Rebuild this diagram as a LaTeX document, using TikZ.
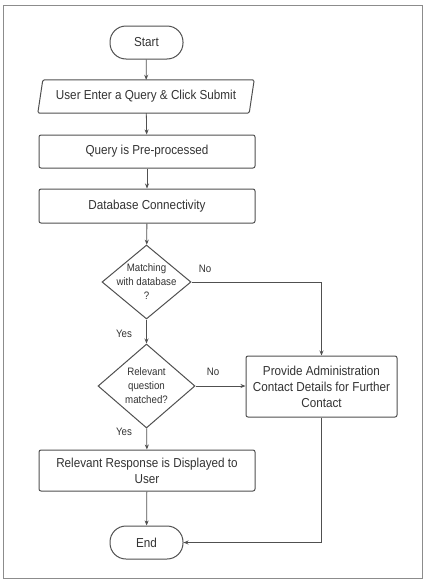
\documentclass[tikz,border=0pt]{standalone}
\usepackage{fontspec}
\setmainfont[FakeStretch=0.9]{Liberation Sans}
\usetikzlibrary{shapes.geometric,arrows.meta}
\definecolor{ln}{HTML}{505050}
\definecolor{tx}{HTML}{333333}
\definecolor{fr}{HTML}{8C8C8C}
\tikzset{
  base/.style={draw=ln, line width=1pt, fill=white, text=tx, align=center,
    font=\fontsize{13}{16}\selectfont, inner sep=0pt},
  term/.style={base, rounded corners=16pt, minimum width=73pt, minimum height=33pt},
  proc/.style={base, rounded corners=2pt, minimum width=216pt},
  dec/.style={base, diamond, inner sep=-30pt, font=\fontsize{10.8}{14}\selectfont},
  io/.style={text=tx, align=center, font=\fontsize{13}{16}\selectfont,
    minimum width=211pt, minimum height=33pt, inner sep=0pt},
  conn/.style={draw=ln, line width=0.8pt, -{Stealth[length=5pt,width=4pt]}},
  lbl/.style={text=tx, font=\fontsize{10.8}{13}\selectfont, inner sep=0pt}
}
\begin{document}
\begin{tikzpicture}[x=1pt,y=1pt]
\useasboundingbox (0,0) rectangle (425,-581);
\draw[fr, line width=1pt] (3,-5) rectangle (422,-578);

\node[term] (start) at (146.5,-42.5) {Start};
\node[io] (inp) at (146,-96.5) {User Enter a Query \& Click Submit};
\draw[ln, line width=1pt, rounded corners=1.5pt] ([xshift=2.5pt]inp.north west) -- ([xshift=2.5pt]inp.north east) -- ([xshift=-2.5pt]inp.south east) -- ([xshift=-2.5pt]inp.south west) -- cycle;
\node[proc, minimum height=33pt] (pre) at (147,-151.5) {Query is Pre-processed};
\node[proc, minimum height=34pt] (db) at (147,-206) {Database Connectivity};
\node[dec, minimum width=89pt, minimum height=74pt] (d1) at (146.5,-282) {Matching\\with database\\?};
\node[dec, minimum width=97pt, minimum height=84pt] (d2) at (146.5,-386) {Relevant\\question\\matched?};
\node[base, rounded corners=2pt, minimum width=151pt, minimum height=61pt] (prov) at (321.5,-386.5) {Provide Administration\\Contact Details for Further\\Contact};
\node[proc, minimum height=41pt] (resp) at (147,-470.5) {Relevant Response is Displayed to\\User};
\node[term] (end) at (146.5,-542.5) {End};

\draw[conn] (start) -- (inp);
\draw[conn] (inp) -- (pre);
\draw[conn] (pre) -- (db);
\draw[conn] (db) -- (d1);
\draw[conn] (d1) -- (d2);
\draw[conn] (d2) -- (resp);
\draw[conn] (resp) -- (end);
\draw[conn] (d1.east) -| (prov.north);
\draw[conn] (d2.east) -- (prov.west |- d2.east);
\draw[conn] (prov.south) |- (end.east);

\node[lbl] (no1) at (205,-269) {No};
\node[lbl] (no2) at (213,-372) {No};
\node[lbl] (yes1) at (124,-334) {Yes};
\node[lbl] (yes2) at (124,-432) {Yes};
\end{tikzpicture}
\end{document}
